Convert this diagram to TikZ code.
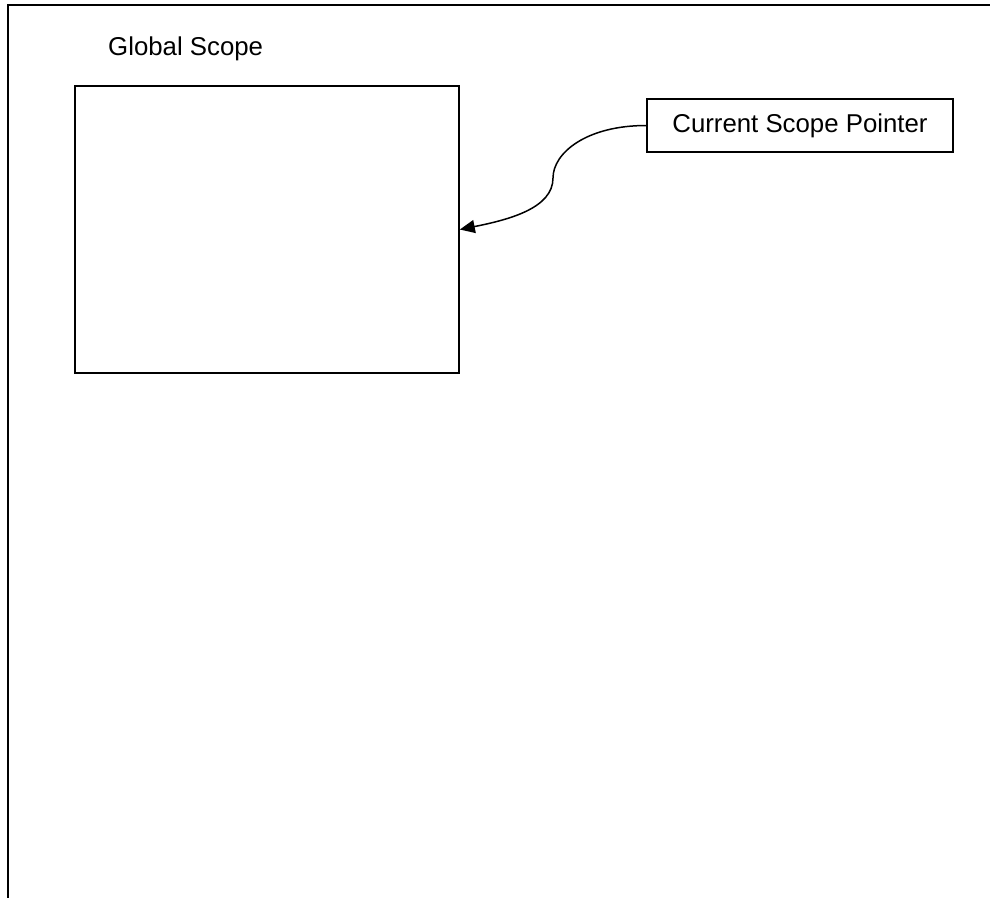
\documentclass[tikz,border=0pt]{standalone}
\usepackage{fontspec}
\setmainfont{Liberation Sans}
\usetikzlibrary{arrows.meta}
\begin{document}
\begin{tikzpicture}[x=1pt,y=-1pt,
  frameline/.style={line width=2pt, line cap=rect},
  boxstyle/.style={draw, line width=1.6pt, inner sep=0pt},
  labeltext/.style={font=\fontsize{25.8}{30}\selectfont},
  pointerarrow/.style={line width=1.5pt, -{Triangle[length=15pt,width=13pt]}}]
  \useasboundingbox (0,0) rectangle (990,897);

  % open page frame: top and left edges only
  \coordinate (frameTR) at (992,5);
  \coordinate (frameTL) at (8,5);
  \coordinate (frameBL) at (8,899);
  \draw[frameline] (frameTR) -- (frameTL) -- (frameBL);

  % global scope label and its box
  \node[labeltext, anchor=base west, inner sep=0pt] (title) at (108,55) {Global Scope};
  \node[boxstyle, minimum width=384pt, minimum height=287pt] (scope) at (267,229.5) {};

  % current scope pointer
  \node[boxstyle, labeltext, minimum width=306pt, minimum height=53pt] (ptr) at (800,125.5) {Current Scope Pointer};

  % S-shaped connector into the scope box
  \coordinate (bend) at (553,178);
  \draw[pointerarrow] (ptr.west) .. controls +(-60,0) and +(0,-25) .. (bend)
        .. controls +(0,30) and +(50,-10) .. (scope.east);
\end{tikzpicture}
\end{document}
